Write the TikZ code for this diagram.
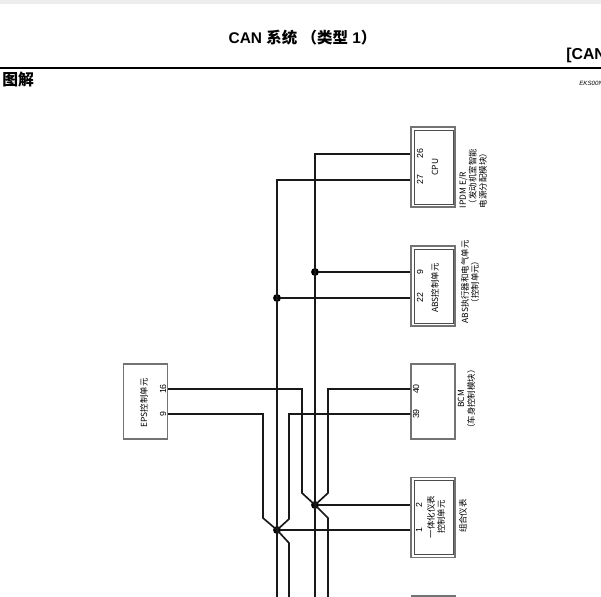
\documentclass[tikz,border=0pt]{standalone}
\usepackage{fontspec}
\setmainfont{Liberation Sans}
\newfontfamily\cjk{Noto Sans CJK SC}
\usetikzlibrary{positioning}
\definecolor{boxgray}{gray}{0.45}
\definecolor{innergray}{gray}{0.3}
\tikzset{
  every node/.style = {inner sep = 0pt},
  unit/.style = {draw = boxgray, line width = 0.7pt, minimum width = 0.88cm, minimum height = 1.5cm},
  outer unit/.style = {unit, minimum height = 1.6cm},
  inner unit/.style = {draw = innergray, line width = 0.5pt, minimum width = 0.78cm, minimum height = 1.48cm},
  wire/.style = {line width = 0.95pt, black!90},
  pin/.style = {rotate = 90, font = \fontsize{5}{5.5}\selectfont},
  caption/.style = {rotate = 90, align = center, font = \fontsize{4.8}{5.8}\selectfont\cjk},
  dot/.style = {circle, fill = black, minimum size = 4.5pt}
}
\begin{document}
\begin{tikzpicture}[x = 0.02cm, y = -0.02cm]
    \useasboundingbox (0, 0) rectangle (601, 597);
    \fill[black!7] (0, 0) rectangle (601, 4);
    \node[font = \bfseries\fontsize{8.8}{10}\selectfont] (title) at (302.5, 38) {CAN {\cjk 系统} {\cjk （类型} 1{\cjk ）}};
    \node[anchor = west, font = \bfseries\fontsize{9}{10}\selectfont] (section) at (566, 55) {[CAN};
    \coordinate (rule_l) at (0, 68);
    \coordinate (rule_r) at (601, 68);
    \draw[line width = 1.2pt] (rule_l) -- (rule_r);
    \node[anchor = west, font = \bfseries\fontsize{9}{10}\selectfont\cjk] (heading) at (2, 80) {图解};
    \node[anchor = west, font = \itshape\fontsize{3.5}{4}\selectfont] (code) at (579, 83) {EKS00N};

    % units
    \node[outer unit] (ipdm) at (433, 167) {};
    \node[inner unit] (ipdm_in) at (433.5, 167) {};
    \node[outer unit] (abs) at (433, 286) {};
    \node[inner unit] (abs_in) at (433.5, 286) {};
    \node[unit] (bcm) at (433, 401.5) {};
    \node[outer unit] (meter) at (433, 517.5) {};
    \node[inner unit] (meter_in) at (433.5, 517.5) {};
    \node[unit] (eps) at (145.5, 401.5) {};
    \coordinate (next_l) at (411, 596);
    \coordinate (next_r) at (456, 596);
    \draw[draw = boxgray, line width = 0.7pt] (next_l) -- (next_r);

    % inner texts
    \node[caption] (cpu) at (435, 167) {CPU};
    \node[caption] (abs_text) at (435, 288) {ABS控制单元};
    \node[caption] (meter_text) at (436, 517) {一体化仪表\\控制单元};
    \node[caption] (eps_text) at (144, 403) {EPS控制单元};

    % outer captions
    \node[caption, align = left] (ipdm_cap) at (473, 178.5) {IPDM E/R\\（发动机室智能\\电源分配模块）};
    \node[caption] (abs_cap) at (470, 282) {ABS执行器和电气单元\\（控制单元）};
    \node[caption] (bcm_cap) at (466.5, 399) {BCM\\（车身控制模块）};
    \node[caption] (meter_cap) at (463, 516) {组合仪表};

    % pin numbers
    \node[pin] (p26) at (420, 154) {26};
    \node[pin] (p27) at (420, 180) {27};
    \node[pin] (p9) at (420, 272) {9};
    \node[pin] (p22) at (420, 298) {22};
    \node[pin] (p40) at (416, 389) {40};
    \node[pin] (p39) at (416, 414) {39};
    \node[pin] (p2) at (419, 505) {2};
    \node[pin] (p1) at (419, 530) {1};
    \node[pin] (p16) at (163, 389) {16};
    \node[pin] (pe9) at (163, 414) {9};

    % junctions
    \node[dot] (j_abs_h) at (315, 272) {};
    \node[dot] (j_abs_l) at (277, 298) {};
    \node[dot] (j_meter_h) at (315, 505) {};
    \node[dot] (j_meter_l) at (277, 530) {};

    % wires
    \coordinate (end_h) at (315, 597);
    \coordinate (end_l) at (277, 597);
    \coordinate (end_h2) at (328, 597);
    \coordinate (end_l2) at (289, 597);
    \draw[wire] (ipdm.west |- p26) -| (end_h);
    \draw[wire] (ipdm.west |- p27) -| (end_l);
    \draw[wire] (abs.west |- p9) -- (j_abs_h);
    \draw[wire] (abs.west |- p22) -- (j_abs_l);
    \draw[wire] (meter.west |- p2) -- (j_meter_h);
    \draw[wire] (meter.west |- p1) -- (j_meter_l);
    \draw[wire] (eps.east |- p16) -- (302, 389) -- (302, 493) -- (j_meter_h.center);
    \draw[wire] (bcm.west |- p40) -- (328, 389) -- (328, 493) -- (j_meter_h.center) -- (328, 518) -- (end_h2);
    \draw[wire] (eps.east |- pe9) -- (263, 414) -- (263, 518) -- (j_meter_l.center);
    \draw[wire] (bcm.west |- p39) -- (289, 414) -- (289, 519) -- (j_meter_l.center) -- (289, 543) -- (end_l2);
\end{tikzpicture}
\end{document}
